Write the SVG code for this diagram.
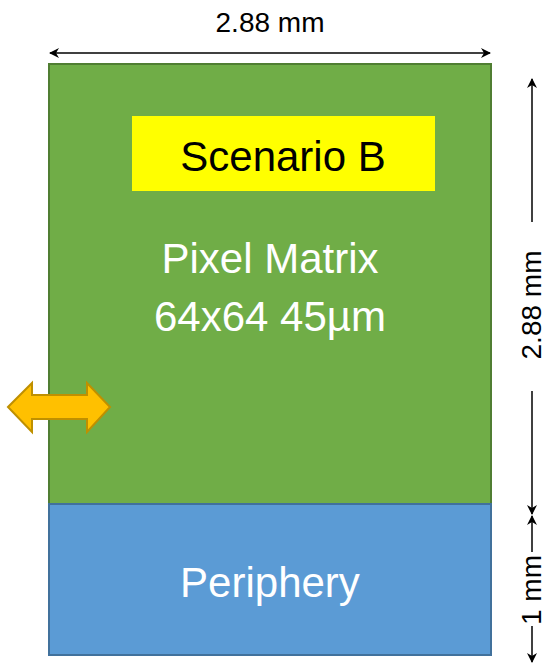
<svg xmlns="http://www.w3.org/2000/svg" width="547" height="667" viewBox="0 0 547 667">
  <style>
    .lbl { font-family: "Liberation Sans", Arial, sans-serif; }
    .big { font-size: 42px; text-anchor: middle; }
    .small { font-size: 28px; fill: #000; text-anchor: middle; }
    .dim { fill: none; stroke: #000; stroke-width: 1.5; }
  </style>
  <defs>
    <marker id="ah" viewBox="0 0 10 10" refX="9" refY="5" markerWidth="10" markerHeight="10" markerUnits="userSpaceOnUse" orient="auto-start-reverse">
      <path d="M0,0 L10,5 L0,10 L3,5 Z" fill="#000"/>
    </marker>
  </defs>
  <rect width="547" height="667" fill="#fff"/>

  <g id="pixel-matrix">
    <rect x="49" y="64" width="442" height="440" fill="#70AD47" stroke="#507E32" stroke-width="2"/>
    <text class="lbl big" x="270" y="273" fill="#fff">Pixel Matrix</text>
    <text class="lbl big" x="270" y="331" fill="#fff">64x64 45µm</text>
  </g>

  <g id="scenario">
    <rect x="132" y="116" width="303" height="75" fill="#FFFF00"/>
    <text class="lbl big" x="283" y="171" fill="#000">Scenario B</text>
  </g>

  <g id="periphery">
    <rect x="49" y="504" width="442" height="151" fill="#5B9BD5" stroke="#41719C" stroke-width="2"/>
    <text class="lbl big" x="270" y="597" fill="#fff">Periphery</text>
  </g>

  <g id="io-arrow">
    <path d="M8,407 L32,383 L32,395 L87,395 L87,383 L110,407 L87,432 L87,419 L32,419 L32,432 Z" fill="#FFC000" stroke="#BF9000" stroke-width="2"/>
  </g>

  <g id="connectors">
    <line class="dim" x1="50" y1="53" x2="490" y2="53" stroke-width="2" marker-start="url(#ah)" marker-end="url(#ah)"/>
    <line class="dim" x1="532" y1="222" x2="532" y2="79" marker-end="url(#ah)"/>
    <line class="dim" x1="532" y1="391" x2="532" y2="514" marker-end="url(#ah)"/>
    <line class="dim" x1="532" y1="552" x2="532" y2="516" marker-end="url(#ah)"/>
    <line class="dim" x1="532" y1="626" x2="532" y2="662" marker-end="url(#ah)"/>
  </g>

  <g id="dimension-labels">
    <text class="lbl small" x="270" y="32">2.88 mm</text>
    <text class="lbl small" transform="translate(541,305) rotate(-90)">2.88 mm</text>
    <text class="lbl small" transform="translate(541,590) rotate(-90)">1 mm</text>
  </g>
</svg>
